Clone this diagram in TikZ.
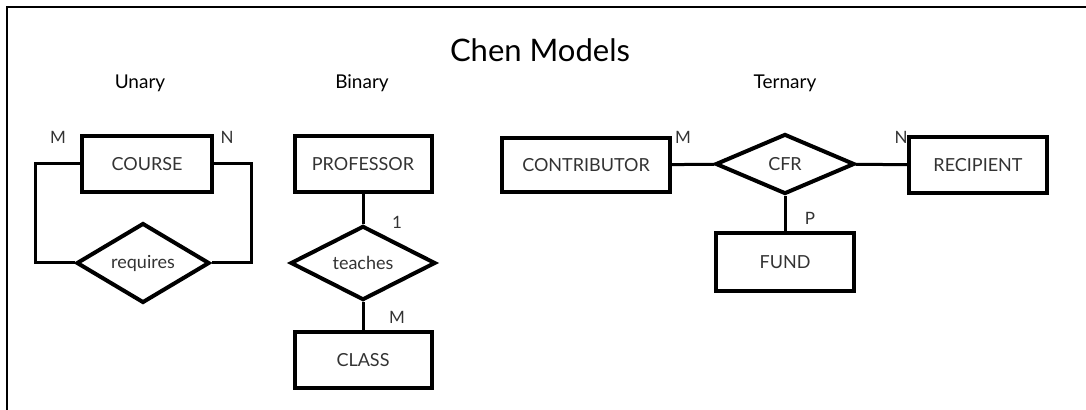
\documentclass[tikz,border=0pt]{standalone}
\usepackage{fontspec}
\setmainfont{Lato}
\usepackage{tikz}
\usetikzlibrary{shapes.geometric}
\newcommand{\boxline}{2pt}
\newcommand{\relline}{1.5pt}
\tikzset{
  entity/.style={draw, rectangle, line width=\boxline, minimum width=67pt, minimum height=28pt, inner sep=0pt, text=black!80, font=\fontsize{9}{10}\selectfont},
  relship/.style={draw, diamond, line width=\boxline, fill=white, minimum width=68pt, minimum height=29.5pt, inner sep=0pt, text=black!80, font=\fontsize{9}{10}\selectfont},
  card/.style={font=\fontsize{8.5}{10}\selectfont, text=black!80, inner sep=0pt},
  heading/.style={font=\fontsize{9.5}{11}\selectfont, inner sep=0pt},
  link/.style={line width=\relline}
}
\begin{document}
\begin{tikzpicture}[x=0.5pt, y=-0.5pt]
\useasboundingbox (0,0) rectangle (1086,410);
% frame
\draw[line width=0.8pt] (7,410) -- (7,7) -- (1086,7);
\node[inner sep=0pt, font=\fontsize{15.5}{18}\selectfont] (title) at (540,50) {Chen Models};
\node[heading] (hunary) at (140,83) {Unary};
\node[heading] (hbinary) at (362,83) {Binary};
\node[heading] (hternary) at (785,83) {Ternary};
%unary
\node[entity, minimum width=65pt] (course) at (147,164) {COURSE};
\node[relship, minimum width=66.5pt] (requires) at (143,263) {requires};
\draw[link] (course.west) -- ++(-45,0) |- (requires.west);
\draw[link] (course.east) -- ++(37,0) |- (requires.east);
\node[card] (m1) at (58,137) {M};
\node[card] (n1) at (227,137) {N};
%binary
\node[entity, minimum width=68.5pt] (professor) at (363,164) {PROFESSOR};
\node[relship, minimum width=72.5pt] (teaches) at (363,263) {teaches};
\node[entity, minimum width=68.5pt] (class) at (363,360) {CLASS};
\draw[link] (professor) -- (teaches);
\draw[link] (teaches) -- (class);
\node[card] (one) at (397,222) {1};
\node[card] (m2) at (397,317) {M};
%ternary
\node[entity, minimum width=84pt, minimum height=27pt] (contributor) at (586,165) {CONTRIBUTOR};
\node[relship, minimum width=69.5pt, minimum height=30pt] (cfr) at (785,164) {CFR};
\node[entity, minimum width=69pt] (recipient) at (978,165) {RECIPIENT};
\node[entity, minimum width=69pt, minimum height=29pt] (fund) at (785,262) {FUND};
\draw[link] (contributor) -- (cfr);
\draw[link] (cfr) -- (recipient);
\draw[link] (cfr) -- (fund);
\node[card] (m3) at (683,137) {M};
\node[card] (n3) at (901,137) {N};
\node[card] (p3) at (810,218) {P};
\end{tikzpicture}
\end{document}
